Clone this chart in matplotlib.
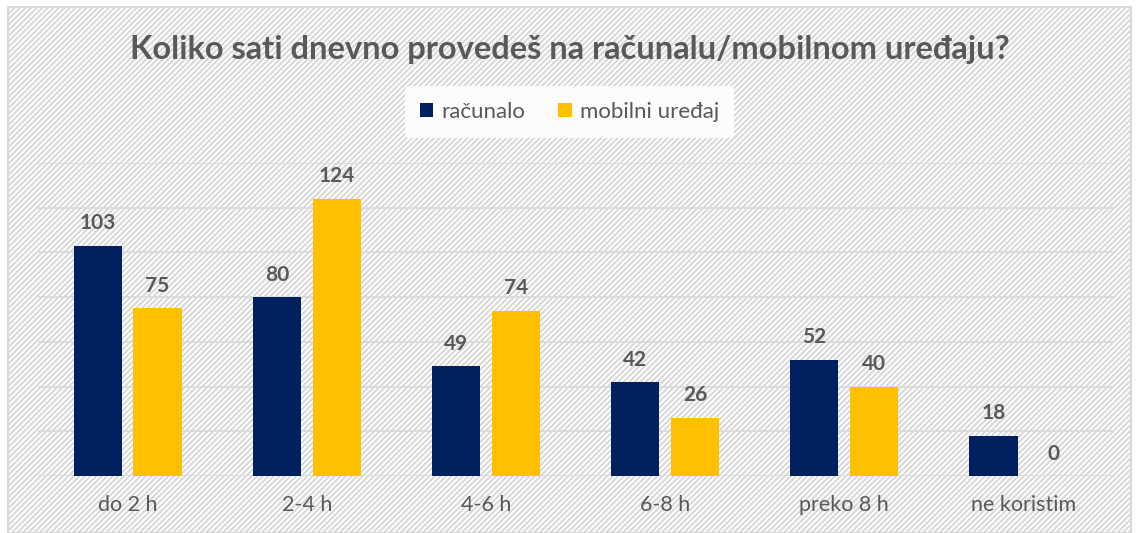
import matplotlib.pyplot as plt
import matplotlib.patches as mpatches
import numpy as np

categories = ['do 2 h', '2-4 h', '4-6 h', '6-8 h', 'preko 8 h', 'ne koristim']
racunalo = [103, 80, 49, 42, 52, 18]
mobilni = [75, 124, 74, 26, 40, 0]

navy = '#002060'
gold = '#FFC000'
grey = '#595959'

plt.rcParams['font.family'] = ['Lato', 'DejaVu Sans']
plt.rcParams['hatch.color'] = '#F5F5F5'
plt.rcParams['hatch.linewidth'] = 1.5

fig = plt.figure(figsize=(11.39, 5.33), dpi=100)

# striped background inside a light grey frame
bg = mpatches.Rectangle((8 / 1139, 0), 1 - 16 / 1139, 1 - 7 / 533, transform=fig.transFigure,
                        facecolor='white', edgecolor='#D9D9D9', hatch='//////', lw=1.5, zorder=-5)
fig.patches.append(bg)

ax = fig.add_axes([38 / 1139, 1 - 476 / 533, (1113 - 38) / 1139, (476 - 163) / 533])
ax.set_facecolor('none')

x = np.arange(len(categories))
w = 0.268
b1 = ax.bar(x - 0.167, racunalo, w, color=navy, label='računalo', zorder=3)
b2 = ax.bar(x + 0.167, mobilni, w, color=gold, label='mobilni uređaj', zorder=3)

for bars in (b1, b2):
    for r in bars:
        ax.annotate(f'{int(r.get_height())}', (r.get_x() + r.get_width() / 2, r.get_height()),
                    xytext=(0, 9), textcoords='offset points', ha='center', va='bottom',
                    fontsize=15, fontweight='bold', color=grey)

ax.set_xlim(-0.5, len(categories) - 0.5)
ax.set_ylim(0, 140)
ax.set_yticks(range(0, 141, 20))
ax.yaxis.grid(True, color='#D9D9D9', lw=1.2, zorder=0)
ax.tick_params(axis='y', left=False, labelleft=False)
ax.tick_params(axis='x', length=0, pad=14, labelsize=15.5, labelcolor=grey)
ax.set_xticks(x)
ax.set_xticklabels(categories)
for s in ax.spines.values():
    s.set_visible(False)

fig.text(0.5, 1 - 50 / 533, 'Koliko sati dnevno provedeš na računalu/mobilnom uređaju?',
         ha='center', va='center', fontsize=23.5, fontweight='bold', color=grey)

leg = fig.legend(handles=[b1, b2], loc='center', bbox_to_anchor=(0.5, 1 - 112 / 533),
                 ncol=2, frameon=True, fontsize=16, handlelength=0.6, handleheight=0.6,
                 handletextpad=0.35, columnspacing=1.5, borderpad=0.7)
leg.get_frame().set_facecolor('white')
leg.get_frame().set_edgecolor('none')
leg.get_frame().set_alpha(0.9)
for t in leg.get_texts():
    t.set_color(grey)

fig.savefig('out.png', dpi=100)
